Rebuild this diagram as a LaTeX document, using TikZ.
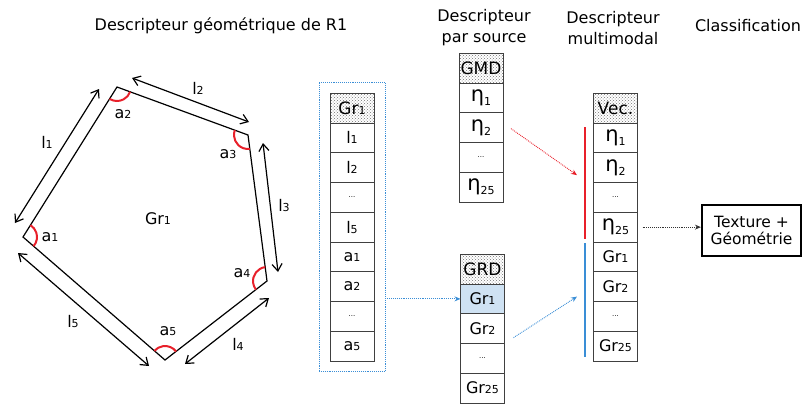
\documentclass[tikz,border=0pt]{standalone}
\usepackage{fontspec}
\setmainfont{DejaVu Sans}
\usetikzlibrary{arrows.meta,positioning,calc,patterns,angles,fit}
\definecolor{geoblue}{HTML}{3A8ED6}
\definecolor{texred}{HTML}{E8202A}
\definecolor{selfill}{HTML}{CFE2F3}
\newcommand{\idx}[1]{{\fontsize{11}{11}\selectfont#1}}
\newcommand{\etaidx}[1]{{\fontsize{21}{21}\selectfont η}\raisebox{-4pt}{\idx{#1}}}
\newcommand{\gap}{{\fontsize{7}{7}\selectfont...}}

\begin{document}
\begin{tikzpicture}[x=1pt,y=-1pt,
 every node/.style={font=\fontsize{16}{21}\selectfont,align=center},
 cell/.style={draw=black!75,line width=.8pt,minimum width=44pt,minimum height=29.75pt,inner sep=0pt,outer sep=0pt,fill=white},
 headcell/.style={cell,pattern=crosshatch dots,pattern color=black!55,minimum height=30pt,font=\fontsize{17}{17}\selectfont},
 side/.style={line width=1.2pt,{Straight Barb[length=7pt,width=10pt]}-{Straight Barb[length=7pt,width=10pt]}},
 corner/.style={draw=texred,line width=2pt,angle radius=14pt},
 link/.style={densely dotted,line width=.9pt,-{Stealth[length=6pt,width=5pt]}},
 bar/.style={line width=1.5pt}]
\useasboundingbox (0,0) rectangle (803,405);

% titles
\node (geotitle) at (221,26) {Descripteur géométrique de R1};
\node (srctitle) at (484,28) {Descripteur\\par source};
\node (mmtitle) at (613,28) {Descripteur\\multimodal};
\node (clstitle) at (748,26) {Classification};

% region R1
\coordinate (v1) at (23,237);
\coordinate (v2) at (117,87);
\coordinate (v3) at (248,135);
\coordinate (v4) at (267,281);
\coordinate (v5) at (165,360);
\draw[line width=1.2pt] (v1)--(v2)--(v3)--(v4)--(v5)--cycle;
\pic[corner] {angle=v5--v1--v2};
\pic[corner] {angle=v1--v2--v3};
\pic[corner] {angle=v2--v3--v4};
\pic[corner] {angle=v3--v4--v5};
\pic[corner] {angle=v4--v5--v1};
\draw[side] (15,223)--(99,89);
\draw[side] (132,78)--(249,122);
\draw[side] (263,143)--(278,272);
\draw[side] (269,298)--(185,364);
\draw[side] (18,253)--(149,366);
\node (l1lab) at (47,142) {l\idx{1}};
\node (l2lab) at (198,88) {l\idx{2}};
\node (l3lab) at (284,205) {l\idx{3}};
\node (l4lab) at (238,344) {l\idx{4}};
\node (l5lab) at (73,321) {l\idx{5}};
\node (a1lab) at (50,237) {a\idx{1}};
\node (a2lab) at (123,114) {a\idx{2}};
\node (a3lab) at (228,154) {a\idx{3}};
\node (a4lab) at (242,273) {a\idx{4}};
\node (a5lab) at (168,331) {a\idx{5}};
\node (grlab) at (158,219) {Gr\idx{1}};

% geometric vector of R1
\node[headcell] (geo0) at (352,108) {Gr\idx{1}};
\node[cell,below=0pt of geo0] (geo1) {l\idx{1}};
\node[cell,below=0pt of geo1] (geo2) {l\idx{2}};
\node[cell,below=0pt of geo2] (geo3) {\gap};
\node[cell,below=0pt of geo3] (geo4) {l\idx{5}};
\node[cell,below=0pt of geo4] (geo5) {a\idx{1}};
\node[cell,below=0pt of geo5] (geo6) {a\idx{2}};
\node[cell,below=0pt of geo6] (geo7) {\gap};
\node[cell,below=0pt of geo7] (geo8) {a\idx{5}};
\node[draw=geoblue,densely dotted,line width=.9pt,fit=(geo0)(geo8),inner xsep=11pt,inner ysep=10.5pt] (geoframe) {};

% descriptors per source
\node[headcell] (gmd0) at (481,68) {GMD};
\node[cell,below=0pt of gmd0] (gmd1) {\etaidx{1}};
\node[cell,below=0pt of gmd1] (gmd2) {\etaidx{2}};
\node[cell,below=0pt of gmd2] (gmd3) {\gap};
\node[cell,below=0pt of gmd3] (gmd4) {\etaidx{25}};

\node[headcell] (grd0) at (482.5,269) {GRD};
\node[cell,fill=selfill,below=0pt of grd0] (grd1) {Gr\idx{1}};
\node[cell,below=0pt of grd1] (grd2) {Gr\idx{2}};
\node[cell,below=0pt of grd2] (grd3) {\gap};
\node[cell,below=0pt of grd3] (grd4) {Gr\idx{25}};

% multimodal descriptor
\node[headcell] (vec0) at (615.5,108) {Vec.};
\node[cell,below=0pt of vec0] (vec1) {\etaidx{1}};
\node[cell,below=0pt of vec1] (vec2) {\etaidx{2}};
\node[cell,below=0pt of vec2] (vec3) {\gap};
\node[cell,below=0pt of vec3] (vec4) {\etaidx{25}};
\node[cell,below=0pt of vec4] (vec5) {Gr\idx{1}};
\node[cell,below=0pt of vec5] (vec6) {Gr\idx{2}};
\node[cell,below=0pt of vec6] (vec7) {\gap};
\node[cell,below=0pt of vec7] (vec8) {Gr\idx{25}};

\coordinate (redtop) at ([xshift=-8.5pt,yshift=-4pt]vec1.north west);
\coordinate (redbot) at ([xshift=-8.5pt,yshift=3pt]vec4.south west);
\coordinate (bluetop) at ([xshift=-8.5pt,yshift=-1pt]vec5.north west);
\coordinate (bluebot) at ([xshift=-8.5pt,yshift=4pt]vec8.south west);
\draw[bar,texred] (redtop)--(redbot);
\draw[bar,geoblue] (bluetop)--(bluebot);

% classification
\node[draw,line width=2.2pt,minimum width=99pt,minimum height=51pt,inner sep=2pt,font=\fontsize{15.5}{17}\selectfont] (result) at (751.5,230.5) {Texture +\\Géométrie};

% links
\draw[link,geoblue] (geoframe.east |- grd1.west)--(grd1.west);
\draw[link,texred] ([xshift=8pt,yshift=-1pt]gmd2.east)--([xshift=-8pt]$(redtop)!.43!(redbot)$);
\draw[link,geoblue] ([xshift=9pt,yshift=-9pt]grd2.east)--([xshift=-8pt]$(bluetop)!.47!(bluebot)$);
\draw[link,black!80] ([xshift=5pt]vec4.east)--(result.west |- vec4.east);
\end{tikzpicture}
\end{document}
